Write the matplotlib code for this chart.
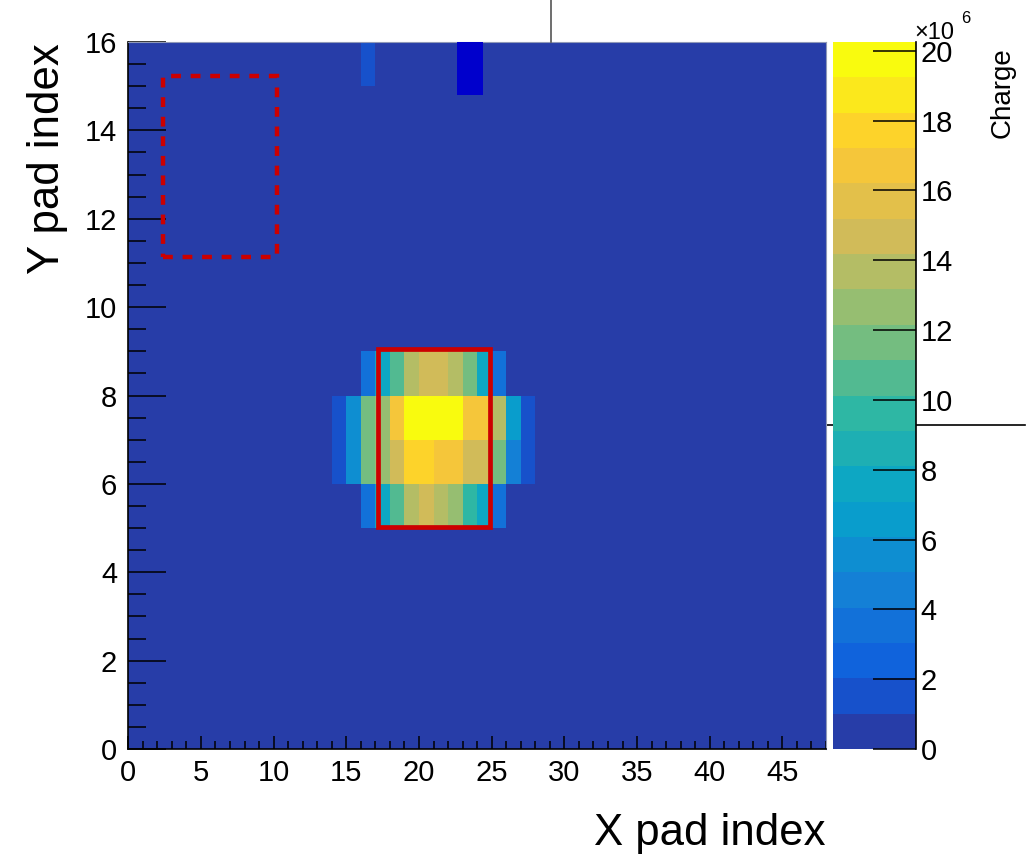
import numpy as np
import matplotlib
matplotlib.use("Agg")
import matplotlib.pyplot as plt
from matplotlib.colors import ListedColormap, BoundaryNorm
from matplotlib.patches import Rectangle
from matplotlib.lines import Line2D
from matplotlib.ticker import MultipleLocator

plt.rcParams['font.family'] = ['Liberation Sans', 'DejaVu Sans']

# pad plane: 48 x 16 pads, charge in units of 1e6
n_x, n_y = 48, 16
z_max = 20.25e6
n_levels = 20

# cluster rows: (y pad, first x pad, charges)
row5 = (5, 16, [3.5, 7.6, 10.6, 13.7, 14.7, 13.7, 12.7, 9.6, 7.6, 3.5])
row6 = (6, 14, [1.6, 5.6, 11.6, 12.7, 14.7, 17.7, 17.7, 16.7, 16.7, 14.7, 14.7, 11.6, 4.6, 1.6])
row7 = (7, 14, [1.6, 5.6, 11.6, 12.7, 16.7, 20.2, 20.2, 20.2, 20.2, 16.7, 16.7, 13.7, 6.6, 1.6])
row8 = (8, 16, [3.5, 7.6, 10.6, 13.7, 14.7, 14.7, 13.7, 11.6, 7.6, 3.5])
stray_pad = (15, 16, [1.6])

# boxes: (x0, y0, x1, y1)
signal_box = (17.15, 5.03, 24.9, 9.05)
sideband_box = (2.41, 11.14, 10.21, 15.23)
dead_box = (22.64, 14.8, 24.43, 16.0)


def BirdColors(nLevels):
    # ROOT kBird palette, 255 colours, sampled the way COLZ picks contour colours
    stops = [0.0, 0.125, 0.25, 0.375, 0.5, 0.625, 0.75, 0.875, 1.0]
    red = [0.2082, 0.0592, 0.0780, 0.0232, 0.1802, 0.5301, 0.8186, 0.9956, 0.9764]
    green = [0.1664, 0.3599, 0.5041, 0.6419, 0.7178, 0.7492, 0.7328, 0.7862, 0.9832]
    blue = [0.5293, 0.8684, 0.8385, 0.7914, 0.6425, 0.4662, 0.3499, 0.1968, 0.0539]
    cols = []
    for k in range(nLevels):
        i = min(int((k + 0.99) * 255 / nLevels), 254)
        f = i / 254.0
        cols.append((np.interp(f, stops, red), np.interp(f, stops, green), np.interp(f, stops, blue)))
    return cols


charge = np.zeros((n_y, n_x))
for y, x0, vals in [row5, row6, row7, row8, stray_pad]:
    charge[y, x0:x0 + len(vals)] = np.array(vals) * 1e6

cmap = ListedColormap(BirdColors(n_levels))
levels = np.linspace(0, z_max, n_levels + 1)
norm = BoundaryNorm(levels, n_levels)

fig = plt.figure(figsize=(10.32, 8.57), dpi=100)
ax = fig.add_axes([0.1243, 0.1260, 0.6761, 0.8250])
cax = fig.add_axes([0.8072, 0.1260, 0.0804, 0.8250])

mesh = ax.pcolormesh(np.arange(n_x + 1), np.arange(n_y + 1), charge, cmap=cmap, norm=norm)

x0, y0, x1, y1 = dead_box
ax.add_patch(Rectangle((x0, y0), x1 - x0, y1 - y0, facecolor='#0000cc', edgecolor='none', zorder=3))
x0, y0, x1, y1 = signal_box
ax.add_patch(Rectangle((x0, y0), x1 - x0, y1 - y0, fill=False, edgecolor='#cc0000', lw=3.4, zorder=4))
x0, y0, x1, y1 = sideband_box
ax.add_patch(Rectangle((x0, y0), x1 - x0, y1 - y0, fill=False, edgecolor='#cc0000', lw=3.2,
                       linestyle=(0, (2.2, 2.2)), zorder=4))

ax.set_xlim(0, n_x)
ax.set_ylim(0, n_y)
ax.xaxis.set_major_locator(MultipleLocator(5))
ax.xaxis.set_minor_locator(MultipleLocator(1))
ax.yaxis.set_major_locator(MultipleLocator(2))
ax.yaxis.set_minor_locator(MultipleLocator(0.5))
ax.tick_params(axis='x', which='major', direction='in', length=9.5, width=1.1, labelsize=21, pad=7)
ax.tick_params(axis='x', which='minor', direction='in', length=5.8, width=1.1)
ax.tick_params(axis='y', which='major', direction='in', length=27, width=1.1, labelsize=21, pad=8)
ax.tick_params(axis='y', which='minor', direction='in', length=13, width=1.1)
for side in ['left', 'bottom']:
    ax.spines[side].set_linewidth(1.2)
for side in ['top', 'right']:
    ax.spines[side].set_color('#9099b8')
    ax.spines[side].set_linewidth(0.8)

cb = fig.colorbar(mesh, cax=cax)
cb.outline.set_visible(False)
cb.set_ticks(np.arange(0, 21, 2) * 1e6)
cb.set_ticklabels([str(v) for v in range(0, 21, 2)])
cax.minorticks_off()
cax.tick_params(axis='y', direction='in', length=31, width=1.1, labelsize=21, pad=3.5)
cax.plot([1, 1], [0, 1], transform=cax.transAxes, color='black', lw=1.2, clip_on=False)

fig.text(914 / 1032, 1 - 39 / 857, '\u00d710', fontsize=17, ha='left', va='baseline')
fig.text(961 / 1032, 1 - 11 / 857, '6', fontsize=12, ha='left', va='top')
fig.text(1003 / 1032, 1 - 47 / 857, 'Charge', rotation=90, fontsize=20, ha='center', va='top')

fig.text(47 / 1032, 1 - 43 / 857, 'Y pad index', rotation=90, fontsize=31.5, ha='center', va='top')
fig.text(826 / 1032, 1 - 813 / 857, 'X pad index', fontsize=31.5, ha='right', va='top')

# stray pad-border lines from the canvas
fig.add_artist(Line2D([551 / 1032, 551 / 1032], [1.0, 1 - 42 / 857], color='#555555', lw=1.2))
fig.add_artist(Line2D([826 / 1032, 1025 / 1032], [1 - 425 / 857, 1 - 425 / 857], color='black',
                      lw=1.2, zorder=-1))

fig.savefig('out.png', dpi=100)
